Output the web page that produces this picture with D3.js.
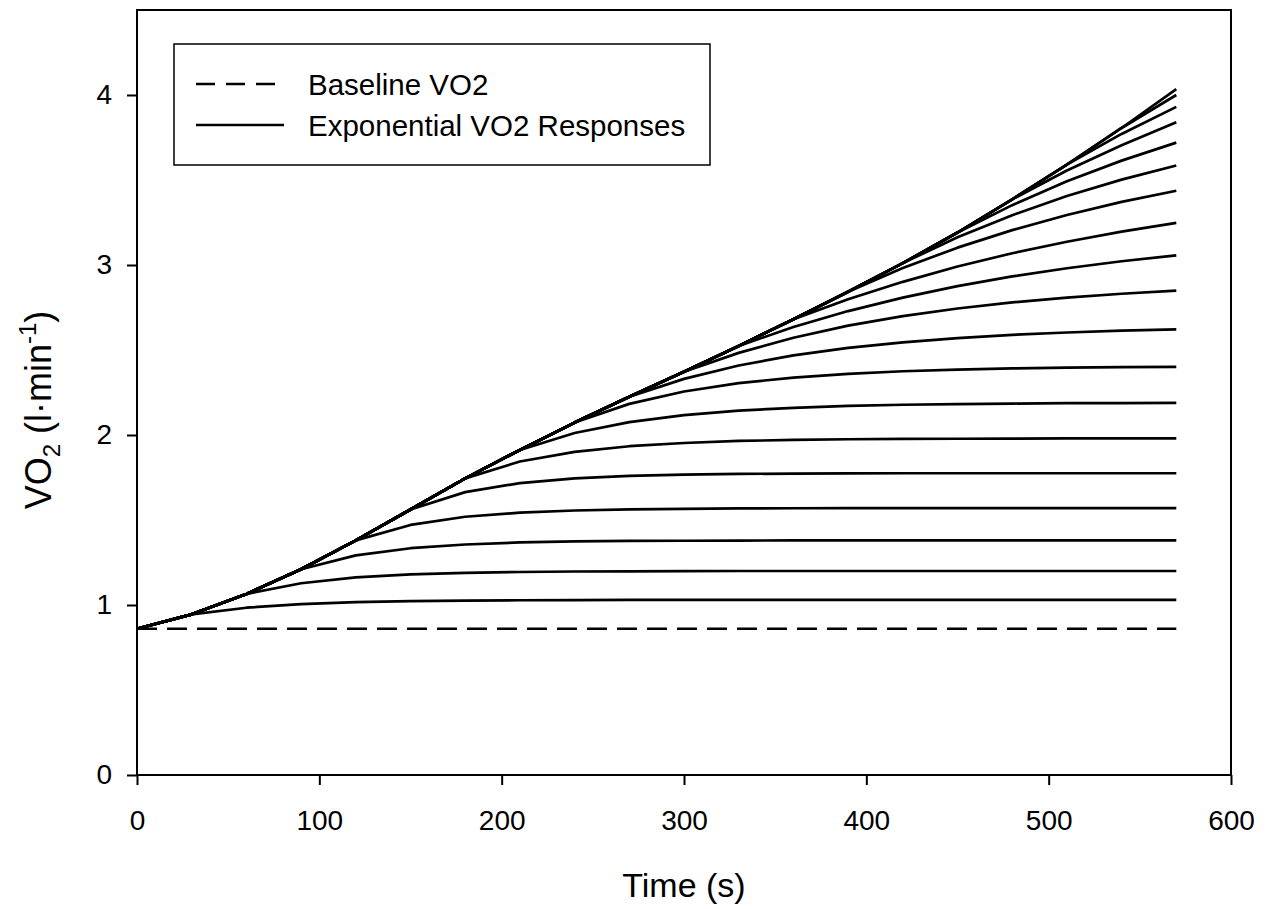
<!DOCTYPE html>
<html lang="en">
<head>
<meta charset="utf-8">
<script src="https://cdn.jsdelivr.net/npm/d3@7"></script>
<style>
  body { margin: 0; background: #fff; }
  svg text { font-family: "Liberation Sans", Arial, sans-serif; fill: #000; }
</style>
</head>
<body>
<svg id="chart" width="1270" height="909"></svg>
<script>
// time points (s)
var times = [0, 30, 60, 90, 120, 150, 180, 210, 240, 270, 300, 330, 360, 390, 420, 450, 480, 510, 540, 570];

// baseline VO2 (l/min)
var baseline = [0.86, 0.86, 0.86, 0.86, 0.86, 0.86, 0.86, 0.86, 0.86, 0.86,
                0.86, 0.86, 0.86, 0.86, 0.86, 0.86, 0.86, 0.86, 0.86, 0.86];

// exponential VO2 responses
var responses = [
  [0.86, 0.945, 0.984, 1.005, 1.017, 1.023, 1.026, 1.028, 1.029, 1.03, 1.03, 1.03, 1.03, 1.03, 1.03, 1.03, 1.03, 1.03, 1.03, 1.03],
  [0.86, 0.945, 1.065, 1.128, 1.162, 1.18, 1.189, 1.194, 1.197, 1.198, 1.199, 1.2, 1.2, 1.2, 1.2, 1.2, 1.2, 1.2, 1.2, 1.2],
  [0.86, 0.945, 1.065, 1.21, 1.292, 1.334, 1.356, 1.368, 1.374, 1.377, 1.378, 1.379, 1.38, 1.38, 1.38, 1.38, 1.38, 1.38, 1.38, 1.38],
  [0.86, 0.945, 1.065, 1.21, 1.38, 1.471, 1.519, 1.543, 1.556, 1.563, 1.566, 1.568, 1.569, 1.57, 1.57, 1.57, 1.57, 1.57, 1.57, 1.57],
  [0.86, 0.945, 1.065, 1.21, 1.38, 1.562, 1.664, 1.717, 1.745, 1.759, 1.767, 1.771, 1.773, 1.774, 1.775, 1.775, 1.775, 1.775, 1.775, 1.775],
  [0.86, 0.945, 1.065, 1.21, 1.38, 1.562, 1.745, 1.844, 1.901, 1.934, 1.953, 1.965, 1.971, 1.975, 1.977, 1.978, 1.979, 1.98, 1.98, 1.98],
  [0.86, 0.945, 1.065, 1.21, 1.38, 1.562, 1.745, 1.912, 2.012, 2.076, 2.117, 2.143, 2.16, 2.171, 2.178, 2.182, 2.185, 2.187, 2.188, 2.189],
  [0.86, 0.945, 1.065, 1.21, 1.38, 1.562, 1.745, 1.912, 2.073, 2.183, 2.256, 2.305, 2.338, 2.36, 2.375, 2.385, 2.392, 2.396, 2.399, 2.401],
  [0.86, 0.945, 1.065, 1.21, 1.38, 1.562, 1.745, 1.912, 2.073, 2.225, 2.33, 2.409, 2.468, 2.512, 2.545, 2.57, 2.589, 2.603, 2.614, 2.621],
  [0.86, 0.945, 1.065, 1.21, 1.38, 1.562, 1.745, 1.912, 2.073, 2.225, 2.372, 2.483, 2.572, 2.643, 2.699, 2.744, 2.78, 2.808, 2.831, 2.849],
  [0.86, 0.945, 1.065, 1.21, 1.38, 1.562, 1.745, 1.912, 2.073, 2.225, 2.372, 2.524, 2.635, 2.729, 2.808, 2.876, 2.933, 2.981, 3.022, 3.057],
  [0.86, 0.945, 1.065, 1.21, 1.38, 1.562, 1.745, 1.912, 2.073, 2.225, 2.372, 2.524, 2.681, 2.799, 2.901, 2.991, 3.069, 3.137, 3.196, 3.248],
  [0.86, 0.945, 1.065, 1.21, 1.38, 1.562, 1.745, 1.912, 2.073, 2.225, 2.372, 2.524, 2.681, 2.843, 2.982, 3.102, 3.205, 3.294, 3.371, 3.437],
  [0.86, 0.945, 1.065, 1.21, 1.38, 1.562, 1.745, 1.912, 2.073, 2.225, 2.372, 2.524, 2.681, 2.843, 3.011, 3.163, 3.293, 3.406, 3.502, 3.585],
  [0.86, 0.945, 1.065, 1.21, 1.38, 1.562, 1.745, 1.912, 2.073, 2.225, 2.372, 2.524, 2.681, 2.843, 3.011, 3.191, 3.352, 3.492, 3.614, 3.72],
  [0.86, 0.945, 1.065, 1.21, 1.38, 1.562, 1.745, 1.912, 2.073, 2.225, 2.372, 2.524, 2.681, 2.843, 3.011, 3.191, 3.386, 3.556, 3.705, 3.84],
  [0.86, 0.945, 1.065, 1.21, 1.38, 1.562, 1.745, 1.912, 2.073, 2.225, 2.372, 2.524, 2.681, 2.843, 3.011, 3.191, 3.386, 3.591, 3.771, 3.93],
  [0.86, 0.945, 1.065, 1.21, 1.38, 1.562, 1.745, 1.912, 2.073, 2.225, 2.372, 2.524, 2.681, 2.843, 3.011, 3.191, 3.386, 3.591, 3.806, 4.0],
  [0.86, 0.945, 1.065, 1.21, 1.38, 1.562, 1.745, 1.912, 2.073, 2.225, 2.372, 2.524, 2.681, 2.843, 3.011, 3.191, 3.386, 3.591, 3.806, 4.034]
];

var xTicks = [0, 100, 200, 300, 400, 500, 600];
var yTicks = [0, 1, 2, 3, 4];
var legendLabels = ["Baseline VO2", "Exponential VO2 Responses"];

var plotLeft = 137, plotRight = 1231, plotTop = 10, plotBottom = 775;

var svg = d3.select("#chart");

var x = d3.scaleLinear().domain([0, 600]).range([plotLeft, plotRight]);
var y = d3.scaleLinear().domain([0, 4.5]).range([plotBottom, plotTop]);

// axes (ticks only on bottom and left, frame drawn separately)
var xa = svg.append("g").attr("transform", "translate(0," + plotBottom + ")")
    .call(d3.axisBottom(x).tickValues(xTicks).tickFormat(d3.format("d"))
      .tickSize(10).tickSizeOuter(0).tickPadding(25));
var ya = svg.append("g").attr("transform", "translate(" + plotLeft + ",0)")
    .call(d3.axisLeft(y).tickValues(yTicks).tickFormat(d3.format("d"))
      .tickSize(10).tickSizeOuter(0).tickPadding(15));
[xa, ya].forEach(function (g) {
  g.select(".domain").remove();
  g.selectAll(".tick line").attr("stroke", "#000").attr("stroke-width", 2);
  g.selectAll(".tick text").attr("font-size", 28).attr("font-family", null);
});

svg.append("rect")
  .attr("x", plotLeft).attr("y", plotTop)
  .attr("width", plotRight - plotLeft).attr("height", plotBottom - plotTop)
  .attr("fill", "none").attr("stroke", "#000").attr("stroke-width", 2);

var line = d3.line()
  .x(function (d, i) { return x(times[i]); })
  .y(function (d) { return y(d); });

svg.append("path")
  .attr("d", line(baseline))
  .attr("fill", "none").attr("stroke", "#000").attr("stroke-width", 2.6)
  .attr("stroke-dasharray", "20,10");

svg.selectAll("path.resp")
  .data(responses)
  .enter().append("path")
    .attr("class", "resp")
    .attr("d", line)
    .attr("fill", "none").attr("stroke", "#000").attr("stroke-width", 2.7)
    .attr("stroke-linejoin", "round");

// legend
var lg = svg.append("g");
lg.append("rect").attr("x", 174).attr("y", 44).attr("width", 536).attr("height", 121)
  .attr("fill", "#fff").attr("stroke", "#000").attr("stroke-width", 1.5);
lg.append("line").attr("x1", 196).attr("x2", 277).attr("y1", 84).attr("y2", 84)
  .attr("stroke", "#000").attr("stroke-width", 2.6).attr("stroke-dasharray", "19,11");
lg.append("line").attr("x1", 196).attr("x2", 284).attr("y1", 125).attr("y2", 125)
  .attr("stroke", "#000").attr("stroke-width", 2.6);
lg.selectAll("text").data(legendLabels).enter().append("text")
  .attr("x", 308).attr("y", function (d, i) { return 95 + i * 41; })
  .attr("font-size", 29.5)
  .text(function (d) { return d; });

// axis titles
svg.append("text").attr("x", (plotLeft + plotRight) / 2).attr("y", 897)
  .attr("text-anchor", "middle").attr("font-size", 34).text("Time (s)");

var yt = svg.append("text")
  .attr("transform", "translate(51,410) rotate(-90)")
  .attr("text-anchor", "middle").attr("font-size", 36);
yt.append("tspan").text("VO");
yt.append("tspan").attr("font-size", 24).attr("dy", 9).text("2");
yt.append("tspan").attr("dy", -9).text(" (l\u00B7min");
yt.append("tspan").attr("font-size", 24).attr("dy", -15).text("-1");
yt.append("tspan").attr("dy", 15).text(")");
</script>
</body>
</html>
